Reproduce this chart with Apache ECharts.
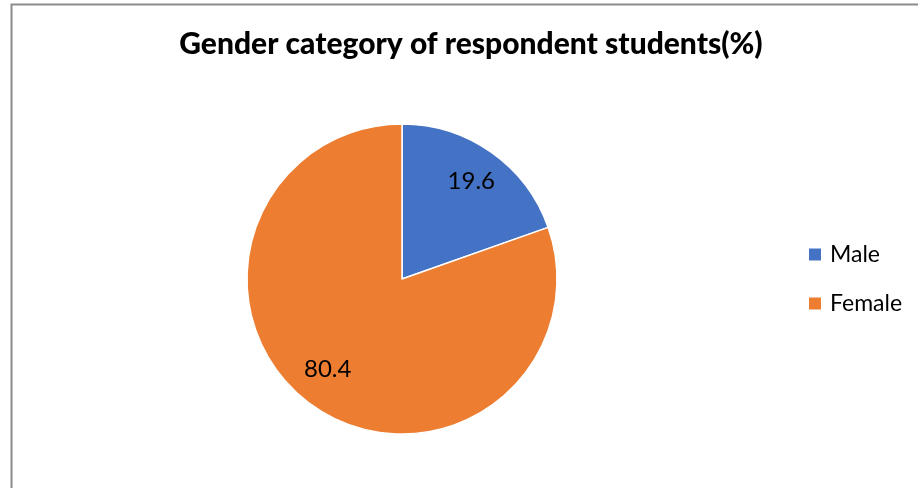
<!DOCTYPE html>
<html><head><meta charset="utf-8">
<script src="https://cdn.jsdelivr.net/npm/echarts@6/dist/echarts.min.js"></script>
<style>html,body{margin:0;padding:0;background:#fff}#c{width:918px;height:488px}</style>
</head><body><div id="c"></div>
<script>
const titleText = 'Gender category of respondent students(%)';
const categories = ['Male', 'Female'];
const values = [19.6, 80.4];
const colors = ['#4472C4', '#ED7D31'];
const labelOffsets = [[0, 0], [-5, -8]];

const data = categories.map((n, i) => ({ name: n, value: values[i], itemStyle: { color: colors[i] } }));
const chart = echarts.init(document.getElementById('c'), null, { renderer: 'canvas' });
chart.setOption({
  animation: false,
  backgroundColor: '#fff',
  title: {
    text: titleText, left: 471, top: 29, textAlign: 'center', padding: 0,
    textStyle: { fontFamily: 'Lato', fontWeight: 900, fontSize: 30, color: '#000' }
  },
  graphic: [{
    type: 'rect', shape: { x: 11.5, y: 4.5, width: 1000, height: 600 },
    style: { fill: 'none', stroke: '#8c8c8c', lineWidth: 2 }, silent: true
  }],
  legend: {
    orient: 'vertical', left: 807, top: 243, padding: 0, itemWidth: 14, itemHeight: 14, itemGap: 26,
    icon: 'rect', data: categories,
    textStyle: { fontFamily: 'Lato', fontSize: 23, color: '#000', padding: [0, 0, 0, 3] }
  },
  series: [{
    type: 'pie', center: [402, 279], radius: [0, 155], startAngle: 90, clockwise: true,
    label: { show: false }, labelLine: { show: false },
    itemStyle: { borderColor: '#fff', borderWidth: 1.5 },
    data: data
  }, {
    type: 'pie', center: [402, 279], radius: [79, 155], startAngle: 90, clockwise: true, silent: true,
    itemStyle: { color: 'rgba(0,0,0,0)' },
    label: { show: true, position: 'inside', formatter: '{c}', fontFamily: 'Lato', fontSize: 24, color: '#000' },
    labelLine: { show: false },
    data: categories.map((n, i) => ({ name: n, value: values[i], label: { offset: labelOffsets[i] } }))
  }]
});
</script></body></html>
